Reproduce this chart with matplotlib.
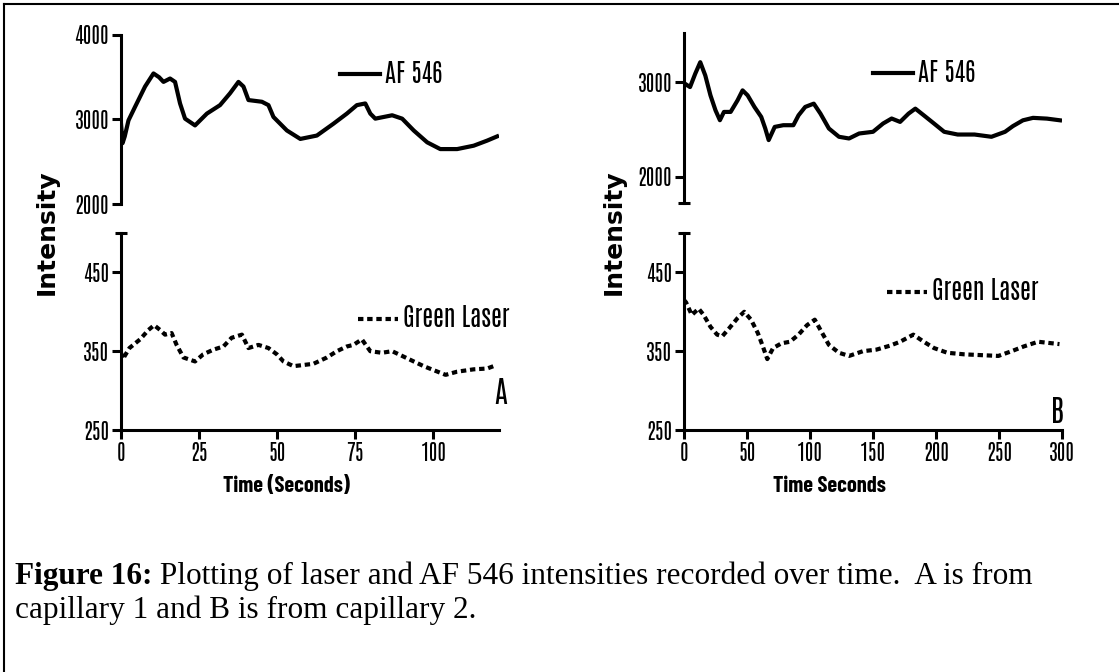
import matplotlib
matplotlib.use("Agg")
import matplotlib.pyplot as plt
from matplotlib.lines import Line2D
from matplotlib.ticker import FixedLocator

# capillary 1 (panel A)
t_af_a = [0, 0.5, 1.2, 2.4, 4.5, 7.7, 10.4, 12.2, 13.6, 15.7,
          17.3, 18.9, 20.5, 23.7, 27.5, 31.7, 34.9, 37.6, 39.2, 40.8,
          45.1, 47.2, 48.8, 53.1, 57.4, 62.7, 68.0, 72.3, 75.5, 78.2,
          79.8, 81.4, 86.8, 90.0, 93.7, 98.0, 102.2, 107.6, 112.9, 117.2,
          120.4]
af_a = [2950, 2720, 2800, 2990, 3150, 3390, 3545, 3500, 3445, 3485,
        3445, 3190, 3010, 2930, 3070, 3170, 3310, 3445, 3390, 3230,
        3210, 3170, 3030, 2870, 2770, 2810, 2950, 3070, 3170, 3190,
        3070, 3010, 3050, 3010, 2870, 2730, 2650, 2650, 2690, 2750,
        2800]
t_gl_a = [0, 0.6, 2.7, 6.1, 8.8, 10.6, 12.5, 14.1, 16.2, 17.8,
          20.0, 23.7, 26.3, 29.6, 32.8, 35.4, 38.7, 40.8, 44.0, 47.2,
          49.9, 52.0, 55.2, 61.6, 65.9, 69.1, 72.3, 74.4, 77.1, 79.8,
          83.5, 86.8, 90.0, 93.7, 96.9, 100.7, 103.9, 107.6, 112.9, 117.2,
          119.9]
gl_a = [348, 340, 354, 365, 377, 383, 377, 371, 373, 358,
        342, 337, 346, 352, 356, 367, 371, 354, 358, 354,
        346, 337, 331, 334, 342, 350, 356, 358, 365, 350,
        348, 350, 344, 337, 331, 325, 320, 324, 327, 328,
        332]

# capillary 2 (panel B)
t_af_b = [0, 0.8, 4.8, 8.9, 12.9, 16.9, 21, 25, 28.5, 31.7,
          37, 42.5, 46.5, 50.5, 55.9, 61.3, 64.5, 67.2, 72, 78.8,
          86.8, 90.9, 96.2, 103, 108.3, 115, 123, 131, 139, 150,
          158, 164.8, 171.5, 178.2, 183.6, 190.3, 198.4, 206.5, 217.2, 230.6,
          244, 254.8, 261, 269, 277, 288, 298.4]
af_b = [2950, 2986, 2951, 3092, 3215, 3074, 2863, 2704, 2599, 2687,
        2687, 2810, 2916, 2863, 2740, 2634, 2511, 2388, 2528, 2546,
        2546, 2651, 2740, 2775, 2669, 2511, 2423, 2405, 2458, 2476,
        2564, 2617, 2581, 2669, 2722, 2651, 2564, 2476, 2447, 2447,
        2423, 2476, 2536, 2598, 2624, 2616, 2598]
t_gl_b = [0, 1.6, 6.2, 11.6, 15.6, 21, 26.3, 30.4, 35.8, 42.5,
          47.8, 53.2, 58.6, 62.6, 66.1, 70.7, 77.4, 84.1, 90.9, 97.6,
          103.8, 108.3, 115, 123, 131, 142, 152.7, 163.4, 171.5, 182,
          190.3, 198.4, 209, 222.6, 236, 249.5, 260, 269.6, 281, 298]
gl_b = [415, 412, 396, 404, 396, 381, 371, 369, 379, 392,
        400, 390, 373, 356, 340, 354, 360, 362, 371, 383,
        390, 377, 358, 348, 344, 350, 352, 357, 362, 371,
        362, 354, 348, 346, 345, 344, 350, 356, 362, 359]

ticks_x_a = [0, 25, 50, 75, 100]
ticks_x_b = [0, 50, 100, 150, 200, 250, 300]
ticks_af_a = [2000, 3000, 4000]
ticks_af_b = [2000, 3000]
ticks_gl = [250, 350, 450]

CAPTION_BOLD = "Figure 16:"
CAPTION_1 = " Plotting of laser and AF 546 intensities recorded over time.  A is from"
CAPTION_2 = "capillary 1 and B is from capillary 2."

W, H = 1119, 672
NARROW = ["Antonio", "Liberation Sans"]
NARROW_BOLD = ["Barlow Condensed", "Antonio", "Liberation Sans"]
LW = 2.2
DOTS = (0, (1.3, 0.9))


def box(x0, y0, x1, y1):
    return [x0 / W, 1 - y1 / H, (x1 - x0) / W, (y1 - y0) / H]


def style(ax, with_x):
    ax.patch.set_alpha(0)
    ax.spines["top"].set_visible(False)
    ax.spines["right"].set_visible(False)
    ax.spines["left"].set_linewidth(LW)
    ax.tick_params(direction="out", length=6.5, width=LW, pad=2,
                   labelsize=15, labelfontfamily=NARROW)
    if with_x:
        ax.spines["bottom"].set_linewidth(LW)
    else:
        ax.spines["bottom"].set_visible(False)
        ax.set_xticks([])


def cap(ax, y):
    ax.yaxis.set_minor_locator(FixedLocator([y]))
    ax.tick_params(axis="y", which="minor", direction="inout", length=9, width=LW)


def legend(ax, fx, fy, hl):
    ax.legend(loc="center left", bbox_to_anchor=(fx, fy), frameon=False,
              borderaxespad=0, borderpad=0, handlelength=hl, handletextpad=0.2,
              prop={"family": NARROW, "size": 18})


fig = plt.figure(figsize=(W / 100, H / 100), dpi=100)

# panel A
ax1 = fig.add_axes(box(121, 35, 499, 204))
ax1.plot(t_af_a, af_a, color="black", lw=3, solid_joinstyle="round", label="AF 546")
ax1.set_xlim(0, 121)
ax1.set_ylim(2000, 4000)
ax1.set_yticks(ticks_af_a)
style(ax1, False)
legend(ax1, 0.58, 0.775, 1.6)

ax2 = fig.add_axes(box(121, 233, 499, 430))
ax2.plot(t_gl_a, gl_a, color="black", lw=3, ls=DOTS, label="Green Laser")
ax2.set_xlim(0, 121)
ax2.set_ylim(250, 500)
ax2.set_yticks(ticks_gl)
ax2.set_xticks(ticks_x_a)
style(ax2, True)
cap(ax2, 500)
legend(ax2, 0.627, 0.569, 1.6)
ax2.text(1.005, 0.188, "A", transform=ax2.transAxes, ha="center", va="center",
         fontsize=21, family=NARROW)
ax2.set_xlabel("Time (Seconds)", fontsize=16, fontweight="bold", family=NARROW_BOLD)
ax2.xaxis.set_label_coords(0.4365, -0.235)

# panel B
ax3 = fig.add_axes(box(684, 33, 1062, 203))
ax3.plot(t_af_b, af_b, color="black", lw=3, solid_joinstyle="round", label="AF 546")
ax3.set_xlim(0, 300)
ax3.set_ylim(1720, 3525)
ax3.set_yticks(ticks_af_b)
style(ax3, False)
cap(ax3, 1720)
legend(ax3, 0.5, 0.77, 1.6)

ax4 = fig.add_axes(box(684, 233, 1062, 430))
ax4.plot(t_gl_b, gl_b, color="black", lw=3, ls=DOTS, label="Green Laser")
ax4.set_xlim(0, 300)
ax4.set_ylim(250, 500)
ax4.set_yticks(ticks_gl)
ax4.set_xticks(ticks_x_b)
style(ax4, True)
cap(ax4, 500)
legend(ax4, 0.537, 0.706, 1.6)
ax4.text(0.987, 0.096, "B", transform=ax4.transAxes, ha="center", va="center",
         fontsize=21, family=NARROW)
ax4.set_xlabel("Time Seconds", fontsize=16, fontweight="bold", family=NARROW_BOLD)
ax4.xaxis.set_label_coords(0.386, -0.235)

for xc in (47, 614):
    fig.text(xc / W, 1 - 232 / H, "Intensity", rotation=90, ha="center", va="center",
             fontsize=18, fontweight="bold", family="DejaVu Sans")

# frame lines of the original page box
fig.add_artist(Line2D([4 / W, 1], [1 - 4 / H, 1 - 4 / H], color="black", lw=1.5,
                      transform=fig.transFigure))
fig.add_artist(Line2D([4 / W, 4 / W], [0, 1 - 4 / H], color="black", lw=1.5,
                      transform=fig.transFigure))

# caption
serif = ["Liberation Serif", "DejaVu Serif"]
cap_fs = 22.5
t1 = fig.text(15 / W, 1 - 584 / H, CAPTION_BOLD, fontsize=cap_fs, fontweight="bold",
              family=serif, va="baseline")
fig.canvas.draw()
bb = t1.get_window_extent(renderer=fig.canvas.get_renderer())
fig.text(bb.x1 / W, 1 - 584 / H, CAPTION_1, fontsize=cap_fs, family=serif, va="baseline")
fig.text(15 / W, 1 - 618 / H, CAPTION_2, fontsize=cap_fs, family=serif, va="baseline")

fig.savefig("out.png", dpi=100)
